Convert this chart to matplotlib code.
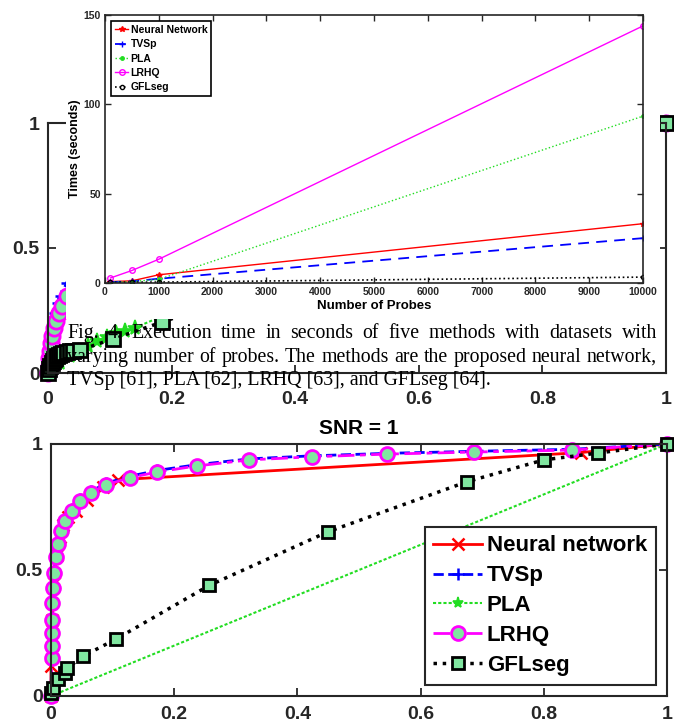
import numpy as np
import matplotlib
matplotlib.use('Agg')
import matplotlib.pyplot as plt
from matplotlib.patches import Rectangle
from matplotlib.ticker import FuncFormatter

plt.rcParams['font.family'] = ['Liberation Sans', 'DejaVu Sans']
plt.rcParams['font.weight'] = 'bold'

# ---- data ----
# inset: execution time vs number of probes
probes = [100, 500, 1000, 10000]
t_nn = [0.8, 1.2, 4.6, 33.2]
t_tvsp = [0.5, 0.9, 2.4, 25.1]
t_pla = [0.3, 0.8, 2.0, 93.4]
t_lrhq = [2.8, 7.0, 13.3, 143.9]
t_gfl = [0.4, 0.5, 0.5, 3.3]
inset_labels = ['Neural Network', 'TVSp', 'PLA', 'LRHQ', 'GFLseg']

# background ROC (top, mostly hidden)
top_lrhq_x = [0, 0.001, 0.002, 0.003, 0.005, 0.007, 0.01, 0.013, 0.017, 0.022, 0.03, 0.045, 0.07, 0.12, 0.2, 0.35, 0.6, 1]
top_lrhq_y = [0, 0.03, 0.06, 0.09, 0.12, 0.15, 0.18, 0.21, 0.24, 0.27, 0.31, 0.4, 0.55, 0.75, 0.88, 0.95, 0.98, 1]
top_tvsp_x = [0, 0.001, 0.002, 0.004, 0.006, 0.009, 0.012, 0.016, 0.021, 0.03, 0.045, 0.07, 0.12, 0.2, 0.35, 0.6, 1]
top_tvsp_y = [0, 0.04, 0.08, 0.12, 0.16, 0.2, 0.24, 0.28, 0.31, 0.36, 0.44, 0.58, 0.76, 0.88, 0.95, 0.98, 1]
top_nn_x = [0, 0.001, 0.003, 0.006, 0.01, 0.015, 0.022, 0.03, 0.05, 0.1, 0.3, 0.7, 1]
top_nn_y = [0, 0.04, 0.09, 0.14, 0.19, 0.23, 0.27, 0.3, 0.4, 0.6, 0.85, 0.95, 1]
top_pla_x = [0, 0.01, 0.02, 0.035, 0.05, 0.065, 0.08, 0.095, 0.11, 0.125, 0.14, 0.3, 0.6, 1]
top_pla_y = [0, 0.02, 0.04, 0.07, 0.09, 0.11, 0.13, 0.145, 0.16, 0.17, 0.18, 0.35, 0.65, 1]
top_gfl_x = [0, 0.002, 0.004, 0.006, 0.008, 0.01, 0.012, 0.015, 0.018, 0.021, 0.025, 0.03, 0.035, 0.04,
             0.052, 0.105, 0.185, 0.3, 0.45, 0.6, 0.75, 0.9, 1]
top_gfl_y = [0, 0.015, 0.03, 0.04, 0.05, 0.056, 0.062, 0.068, 0.073, 0.077, 0.08, 0.084, 0.087, 0.089,
             0.092, 0.136, 0.204, 0.3, 0.45, 0.6, 0.75, 0.9, 1]

# bottom ROC, SNR = 1
nn_x = [0, 0, 0.002, 0.005, 0.009, 0.014, 0.02, 0.028, 0.041, 0.059, 0.085, 0.109, 0.86, 1]
nn_y = [0, 0.12, 0.3, 0.45, 0.56, 0.63, 0.68, 0.71, 0.734, 0.777, 0.83, 0.858, 0.966, 1]
lrhq_x = [0, 0.001, 0.001, 0.001, 0.002, 0.002, 0.003, 0.005, 0.008, 0.011, 0.016, 0.023, 0.034, 0.047,
          0.065, 0.089, 0.128, 0.172, 0.237, 0.322, 0.423, 0.546, 0.686, 0.846, 1]
lrhq_y = [0, 0.15, 0.2, 0.25, 0.3, 0.37, 0.43, 0.49, 0.55, 0.605, 0.656, 0.696, 0.735, 0.775,
          0.806, 0.838, 0.866, 0.889, 0.913, 0.937, 0.949, 0.96, 0.968, 0.976, 1]
tvsp_x = lrhq_x
tvsp_y = [0, 0.16, 0.21, 0.26, 0.31, 0.38, 0.44, 0.5, 0.56, 0.61, 0.662, 0.702, 0.741, 0.781,
          0.812, 0.844, 0.872, 0.895, 0.918, 0.941, 0.953, 0.963, 0.971, 0.979, 1]
pla_x = [0, 1]
pla_y = [0, 1]
gfl_x = [0, 0.003, 0.012, 0.023, 0.026, 0.052, 0.105, 0.257, 0.45, 0.675, 0.80, 0.888, 1]
gfl_y = [0.01, 0.03, 0.067, 0.09, 0.11, 0.158, 0.225, 0.439, 0.652, 0.85, 0.937, 0.964, 1]
roc_labels = ['Neural network', 'TVSp', 'PLA', 'LRHQ', 'GFLseg']

caption = ["Fig. 4.  Execution time in seconds of five methods with datasets with",
           "varying number of probes. The methods are the proposed neural network,",
           "TVSp [61], PLA [62], LRHQ [63], and GFLseg [64]."]

W, H = 674, 725
fig = plt.figure(figsize=(W / 100, H / 100), dpi=100)

face = '#80e6a0'
axc = '#262626'


def fx(px):
    return px / W


def fy(py):
    return 1 - py / H


def style_roc(ax, xpad):
    ax.set_xlim(0, 1)
    ax.set_ylim(0, 1)
    ax.set_xticks([0, 0.2, 0.4, 0.6, 0.8, 1])
    ax.set_yticks([0, 0.5, 1])
    fmt = FuncFormatter(lambda v, p: '%g' % v)
    ax.xaxis.set_major_formatter(fmt)
    ax.yaxis.set_major_formatter(fmt)
    ax.tick_params(direction='in', top=True, right=True, length=6, width=1.3,
                   labelsize=14, colors=axc, pad=6)
    ax.tick_params(axis='x', pad=xpad)
    for s in ax.spines.values():
        s.set_linewidth(1.5)
        s.set_color(axc)


def roc_lines(ax, d, ms_c=10, ms_s=9, ms_p=8):
    (nx, ny), (tx, ty), (px, py), (lx, ly), (gx, gy) = d
    ax.plot(nx, ny, color='red', lw=2, marker='x', ms=8, mew=1.8, clip_on=False)
    ax.plot(tx, ty, color='blue', lw=2, ls='--', marker='+', ms=8, mew=1.8, clip_on=False)
    ax.plot(px, py, color='#22dd22', lw=1.5, ls=(0, (1.5, 1)), marker='*', ms=ms_p, mew=1.2,
            clip_on=False)
    ax.plot(lx, ly, color='magenta', lw=2, ls=(0, (6, 2, 2, 2)), marker='o', ms=ms_c,
            mfc=face, mec='magenta', mew=2, clip_on=False)
    ax.plot(gx, gy, color='black', lw=2.5, ls=':', marker='s', ms=ms_s,
            mfc=face, mec='black', mew=2, clip_on=False)


# top (background) ROC axes
ax_top = fig.add_axes([fx(48), fy(373), (666 - 48) / W, 250 / H], zorder=0)
style_roc(ax_top, 13)
roc_lines(ax_top, [(top_nn_x, top_nn_y), (top_tvsp_x, top_tvsp_y), (top_pla_x, top_pla_y),
                   (top_lrhq_x, top_lrhq_y), (top_gfl_x, top_gfl_y)],
          ms_c=11, ms_s=10, ms_p=11)

# white sheet of the pasted inset
fig.add_artist(Rectangle((fx(66), fy(319)), (660 - 66) / W, 319 / H,
                         transform=fig.transFigure, facecolor='white',
                         edgecolor='none', zorder=1))

# inset: execution time
ax_in = fig.add_axes([fx(105), fy(283), (643 - 105) / W, 268 / H], zorder=2)
ax_in.plot(probes, t_nn, color='red', lw=1, marker='*', ms=4, label=inset_labels[0])
ax_in.plot(probes, t_tvsp, color='blue', lw=1.3, ls='--', dashes=(6, 4), marker='+', ms=4,
           label=inset_labels[1])
ax_in.plot(probes, t_pla, color='#22dd22', lw=1, ls=':', marker='.', ms=5, label=inset_labels[2])
ax_in.plot(probes, t_lrhq, color='magenta', lw=1, marker='o', ms=4, mfc='none',
           label=inset_labels[3])
ax_in.plot(probes, t_gfl, color='black', lw=1.2, ls=':', marker='o', ms=3, mfc='none',
           label=inset_labels[4])
ax_in.set_xlim(0, 10000)
ax_in.set_ylim(0, 150)
ax_in.set_xticks(np.arange(0, 10001, 1000))
ax_in.set_yticks([0, 50, 100, 150])
ax_in.tick_params(direction='in', top=True, right=True, length=4, width=1,
                  labelsize=7.5, colors=axc, pad=3)
for s in ax_in.spines.values():
    s.set_linewidth(1.2)
    s.set_color(axc)
ax_in.set_xlabel('Number of Probes', fontsize=9.5, fontweight='bold', labelpad=2)
ax_in.set_ylabel('Times (seconds)', fontsize=9, fontweight='bold', labelpad=2)
leg = ax_in.legend(loc='upper left', fontsize=7.5, handlelength=1.3, handletextpad=0.2,
                   labelspacing=0.42, borderpad=0.35, borderaxespad=0.6,
                   fancybox=False, framealpha=1)
leg.get_frame().set_edgecolor('black')
leg.get_frame().set_linewidth(1.2)

# bottom ROC axes
ax_bot = fig.add_axes([fx(51), fy(696), (667 - 51) / W, 252 / H], zorder=0)
style_roc(ax_bot, 7)
roc_lines(ax_bot, [(nn_x, nn_y), (tvsp_x, tvsp_y), (pla_x, pla_y),
                   (lrhq_x, lrhq_y), (gfl_x, gfl_y)])
for line, lab in zip(ax_bot.get_lines(), roc_labels):
    line.set_label(lab)
ax_bot.set_title('SNR = 1', fontsize=15, fontweight='bold', pad=7)
leg2 = ax_bot.legend(loc='lower right', fontsize=16, handlelength=2.2, handletextpad=0.2,
                     labelspacing=0.4, borderpad=0.4, borderaxespad=0.5,
                     fancybox=False, framealpha=1)
leg2.get_frame().set_edgecolor(axc)
leg2.get_frame().set_linewidth(1.5)

# caption (justified, Times-like)
renderer = fig.canvas.get_renderer()
cap_kw = dict(family='Liberation Serif', fontweight='normal', color='black',
              va='baseline', ha='left', zorder=5)
probe = fig.text(0, 0, caption[2], fontsize=10, **cap_kw)
cap_size = 10 * 424 / probe.get_window_extent(renderer).width
probe.remove()

baselines = [338, 362, 385]
x0, x1 = 67, 657
for i, line in enumerate(caption):
    y = fy(baselines[i])
    if i == len(caption) - 1:
        fig.text(fx(x0), y, line, fontsize=cap_size, **cap_kw)
        continue
    words = line.split()
    texts = [fig.text(0, y, w, fontsize=cap_size, **cap_kw) for w in words]
    widths = [t.get_window_extent(renderer).width for t in texts]
    gap = (x1 - x0 - sum(widths)) / (len(words) - 1)
    x = x0
    for t, w in zip(texts, widths):
        t.set_x(fx(x))
        x += w + gap

fig.savefig('out.png', dpi=100)
